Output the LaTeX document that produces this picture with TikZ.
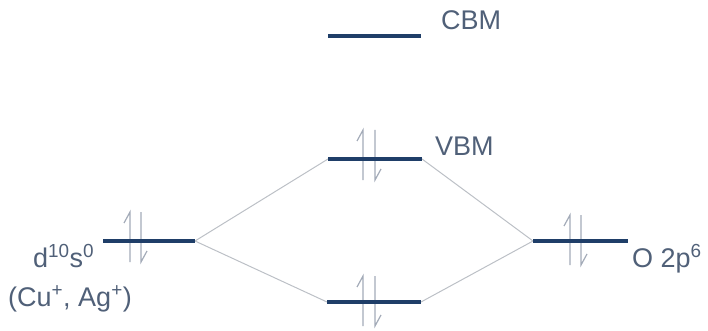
\documentclass[tikz,border=0pt]{standalone}
\usepackage{fontspec}
\setmainfont{Liberation Sans}
\definecolor{levelc}{HTML}{1F3E68}
\definecolor{linkc}{HTML}{BCC0C6}
\definecolor{spinc}{HTML}{A3ABB8}
\definecolor{textc}{HTML}{506078}
\begin{document}
\begin{tikzpicture}[x=1pt,y=-1pt,
  level/.style={draw=levelc,line width=3.6pt},
  link/.style={draw=linkc,line width=1pt},
  spin/.style={draw=spinc,line width=1.2pt},
  lbl/.style={inner sep=0pt,anchor=base west,text=textc,font=\fontsize{27}{31}\selectfont}]
\useasboundingbox (0,0) rectangle (708,331);
% level end points
\coordinate (cbmL) at (328,36);  \coordinate (cbmR) at (421,36);
\coordinate (vbmL) at (328,159); \coordinate (vbmR) at (422,159);
\coordinate (botL) at (327,302); \coordinate (botR) at (421,302);
\coordinate (dL) at (103,241);   \coordinate (dR) at (195,241);
\coordinate (oL) at (533,241);   \coordinate (oR) at (628,241);
% connectors
\draw[link] (dR) -- (vbmL);
\draw[link] (dR) -- (botL);
\draw[link] (vbmR) -- (oL);
\draw[link] (botR) -- (oL);
% spin pairs
\newcommand{\spinpair}[3]{%
  \draw[spin] (#1,#3+25) -- (#1,#3-25) -- (#1-6,#3-14);
  \draw[spin] (#2,#3-25) -- (#2,#3+25) -- (#2+6,#3+14);}
\spinpair{130}{141}{237}
\spinpair{363}{375}{155}
\spinpair{363}{375}{301}
\spinpair{570}{581}{240}
% levels
\draw[level] (cbmL) -- (cbmR);
\draw[level] (vbmL) -- (vbmR);
\draw[level] (botL) -- (botR);
\draw[level] (dL) -- (dR);
\draw[level] (oL) -- (oR);
% labels
\node[lbl] (cbm) at (441,30) {CBM};
\node[lbl] (vbm) at (435,155) {VBM};
\node[lbl] (d10) at (33,267) {d\textsuperscript{10}s\textsuperscript{0}};
\node[lbl] (cu) at (8,306) {(Cu\textsuperscript{+}, Ag\textsuperscript{+})};
\node[lbl] (o2p) at (632,267) {O 2p\textsuperscript{6}};
\end{tikzpicture}
\end{document}
